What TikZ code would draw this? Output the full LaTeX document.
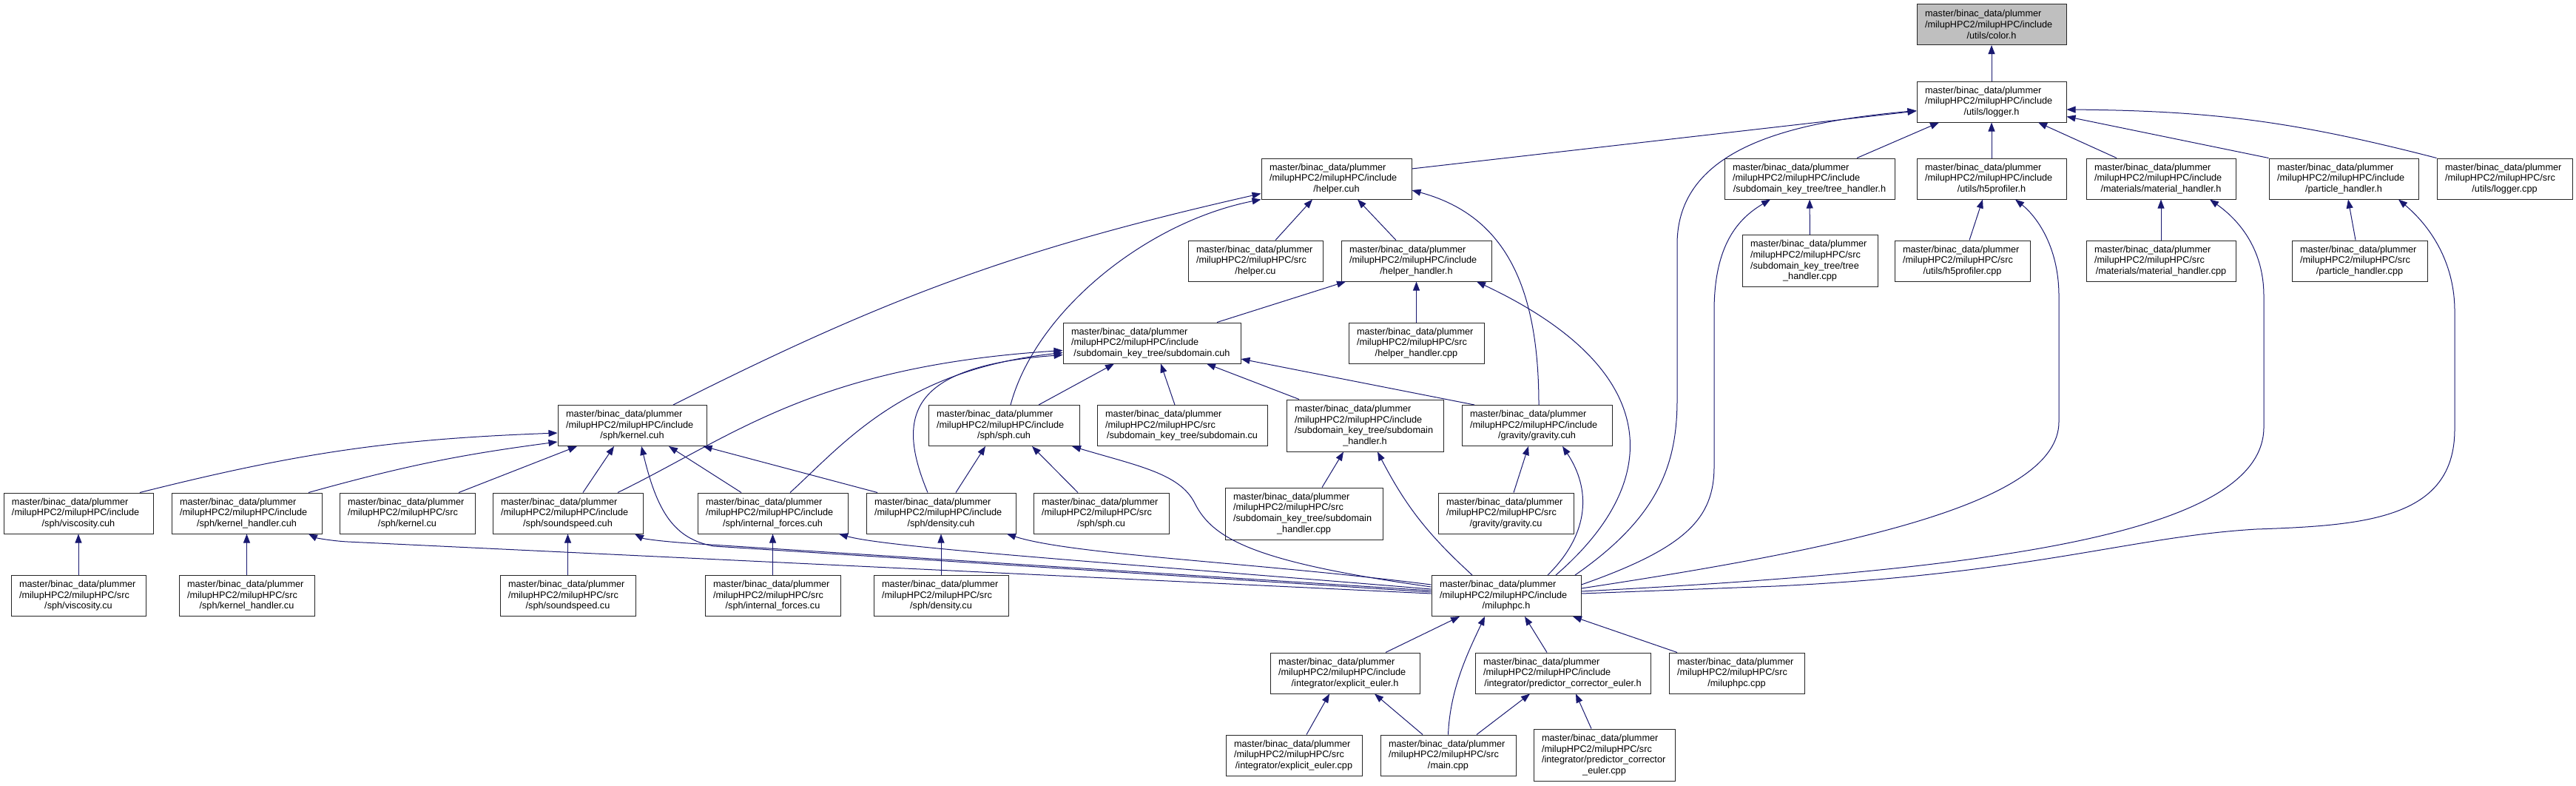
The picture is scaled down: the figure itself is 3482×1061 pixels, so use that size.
\documentclass[tikz,border=0pt]{standalone}
\usepackage{fontspec}
\setmainfont{Liberation Sans}
\usetikzlibrary{arrows.meta}
\definecolor{edgeblue}{HTML}{191970}
\newcommand{\incf}[1]{master/binac\_data/plummer\\/milupHPC2/milupHPC/include\\\hspace*{\fill}#1\hspace*{\fill}\mbox{}}
\newcommand{\srcf}[1]{master/binac\_data/plummer\\/milupHPC2/milupHPC/src\\\hspace*{\fill}#1\hspace*{\fill}\mbox{}}
\newcommand{\incw}[2]{master/binac\_data/plummer\\/milupHPC2/milupHPC/include\\#1\\\hspace*{\fill}#2\hspace*{\fill}\mbox{}}
\newcommand{\srcw}[2]{master/binac\_data/plummer\\/milupHPC2/milupHPC/src\\#1\\\hspace*{\fill}#2\hspace*{\fill}\mbox{}}
\begin{document}
\begin{tikzpicture}[x=1pt,y=-1pt, f/.style={rectangle,draw=black!85,line width=1pt,fill=white,inner xsep=11pt,inner ysep=0pt,minimum height=55pt,align=left,text width=#1pt,font=\fontsize{12.7}{14.6}\selectfont}, arr/.style={-{Triangle[length=12pt,width=9pt]},draw=edgeblue,line width=1pt}]
  \useasboundingbox (0,0) rectangle (3482,1061);
  % rows top to bottom
  \node[f=180,fill=black!25](colorh) at (2692,33){\incf{/utils/color.h}};
  \node[f=180](loggerh) at (2692,137.5){\incf{/utils/logger.h}};
  \node[f=181](helpercuh) at (1806.5,241.5){\incf{/helper.cuh}};
  \node[f=208](treeh) at (2446,241.5){\incf{/subdomain\_key\_tree/tree\_handler.h}};
  \node[f=180](hfiveh) at (2692,241.5){\incf{/utils/h5profiler.h}};
  \node[f=180](mat) at (2921,241.5){\incf{/materials/material\_handler.h}};
  \node[f=180](parth) at (3168,241.5){\incf{/particle\_handler.h}};
  \node[f=161](loggercpp) at (3385.5,241.5){\srcf{/utils/logger.cpp}};
  \node[f=160](helpercu) at (1697,352.5){\srcf{/helper.cu}};
  \node[f=181](helperh) at (1914.5,352.5){\incf{/helper\_handler.h}};
  \node[f=161,minimum height=70pt](treecpp) at (2446.5,352.5){\srcw{/subdomain\_key\_tree/tree}{\_handler.cpp}};
  \node[f=161](hfivecpp) at (2652.5,352.5){\srcf{/utils/h5profiler.cpp}};
  \node[f=180](matcpp) at (2921,352.5){\srcf{/materials/material\_handler.cpp}};
  \node[f=161](partcpp) at (3189.5,352.5){\srcf{/particle\_handler.cpp}};
  \node[f=218](subcuh) at (1557,463.5){\incf{/subdomain\_key\_tree/subdomain.cuh}};
  \node[f=161](helpercpp) at (1914.5,463.5){\srcf{/helper\_handler.cpp}};
  \node[f=179](kernelcuh) at (854.5,575){\incf{/sph/kernel.cuh}};
  \node[f=182](sphcuh) at (1357,575){\incf{/sph/sph.cuh}};
  \node[f=208](subcu) at (1598,575){\srcf{/subdomain\_key\_tree/subdomain.cu}};
  \node[f=190,minimum height=70pt](subh) at (1845,575){\incw{/subdomain\_key\_tree/subdomain}{\_handler.h}};
  \node[f=181](gravcuh) at (2077.5,575){\incf{/gravity/gravity.cuh}};
  \node[f=180](visccuh) at (106,693.5){\incf{/sph/viscosity.cuh}};
  \node[f=181](khcuh) at (333.5,693.5){\incf{/sph/kernel\_handler.cuh}};
  \node[f=161](kernelcu) at (550.5,693.5){\srcf{/sph/kernel.cu}};
  \node[f=181](sscuh) at (767.5,693.5){\incf{/sph/soundspeed.cuh}};
  \node[f=181](ifcuh) at (1044.5,693.5){\incf{/sph/internal\_forces.cuh}};
  \node[f=180](denscuh) at (1272,693.5){\incf{/sph/density.cuh}};
  \node[f=161](sphcu) at (1488.5,693.5){\srcf{/sph/sph.cu}};
  \node[f=191,minimum height=70pt](subcpp) at (1762.5,694){\srcw{/subdomain\_key\_tree/subdomain}{\_handler.cpp}};
  \node[f=161](gravcu) at (2035.5,693.5){\srcf{/gravity/gravity.cu}};
  \node[f=160](visccu) at (106,805){\srcf{/sph/viscosity.cu}};
  \node[f=161](khcu) at (333.5,805){\srcf{/sph/kernel\_handler.cu}};
  \node[f=161](sscu) at (767.5,805){\srcf{/sph/soundspeed.cu}};
  \node[f=161](ifcu) at (1044.5,805){\srcf{/sph/internal\_forces.cu}};
  \node[f=160](denscu) at (1272,805){\srcf{/sph/density.cu}};
  \node[f=180](milh) at (2036,805){\incf{/miluphpc.h}};
  \node[f=180](eeh) at (1818,909.5){\incf{/integrator/explicit\_euler.h}};
  \node[f=215](pceh) at (2112.5,909.5){\incf{/integrator/predictor\_corrector\_euler.h}};
  \node[f=161](milcpp) at (2347.5,909.5){\srcf{/miluphpc.cpp}};
  \node[f=162](eecpp) at (1749,1020.5){\srcf{/integrator/explicit\_euler.cpp}};
  \node[f=161](maincpp) at (1957.5,1020.5){\srcf{/main.cpp}};
  \node[f=169,minimum height=70pt](pcecpp) at (2168.5,1020){\srcw{/integrator/predictor\_corrector}{\_euler.cpp}};
  % straight down includes
  \foreach \x/\y in {loggerh/colorh,hfiveh/loggerh,treecpp/treeh,matcpp/mat,helpercpp/helperh,visccu/visccuh,khcu/khcuh,sscu/sscuh,ifcu/ifcuh,denscu/denscuh}{\draw[arr](\x)--(\y);}
  % logger.h
  \draw[arr]([yshift=13.5pt]helpercuh.east)--([yshift=-12.5pt]loggerh.west);
  \draw[arr]([xshift=64pt]treeh.north)--([xshift=-71pt]loggerh.south);
  \draw[arr]([xshift=-60pt]mat.north)--([xshift=63pt]loggerh.south);
  \draw[arr](parth.north west)--([yshift=-20pt]loggerh.east);
  \draw[arr](loggercpp.north west) to[bend right=7] ([yshift=-10.5pt]loggerh.east);
  \draw[arr]([xshift=93pt]milh.north) .. controls (2240,700) and (2267,630) .. (2267,540) -- (2267,330) .. controls (2267,200) and (2420,165) .. ([yshift=-12pt]loggerh.west);
  % second row headers
  \draw[arr]([yshift=15pt]milh.east) .. controls (2280,740) and (2317,700) .. (2317,630) -- (2317,420) .. controls (2317,330) and (2350,295) .. ([xshift=-53pt]treeh.south);
  \draw[arr]([xshift=9.5pt]hfivecpp.north)--([xshift=-12pt]hfiveh.south);
  \draw[arr]([yshift=10pt]milh.east) .. controls (2500,740) and (2783,680) .. (2783,570) -- (2783,400) .. controls (2783,330) and (2750,290) .. ([xshift=32pt]hfiveh.south);
  \draw[arr]([yshift=6pt]milh.east) .. controls (2700,770) and (3060,720) .. (3060,577) -- (3060,400) .. controls (3060,340) and (3030,300) .. ([xshift=66pt]mat.south);
  \draw[arr]([xshift=-5.5pt]partcpp.north)--([xshift=6pt]parth.south);
  \draw[arr]([yshift=3pt]milh.east) -- (2400,792) .. controls (2750,775) and (2880,725) .. (3050,715) .. controls (3200,710) and (3318,700) .. (3318,580) -- (3318,420) .. controls (3318,360) and (3290,310) .. ([xshift=74pt]parth.south);
  % helper.cuh and helper_handler.h
  \draw[arr]([xshift=27pt]helpercu.north)--([xshift=-32.5pt]helpercuh.south);
  \draw[arr]([xshift=-27.5pt]helperh.north)--([xshift=28.5pt]helpercuh.south);
  \draw[arr]([xshift=55.5pt]kernelcuh.north) to[bend left=7] ([yshift=-20pt]helpercuh.west);
  \draw[arr]([xshift=9pt]sphcuh.north) .. controls (1400,420) and (1550,300) .. ([yshift=-28pt]helpercuh.west);
  \draw[arr]([xshift=2.5pt]gravcuh.north) .. controls (2080,380) and (2030,290) .. ([yshift=-15.5pt]helpercuh.east);
  \draw[arr]([xshift=88pt]subcuh.north)--([xshift=-95.5pt]helperh.south);
  \draw[arr]([xshift=67pt]milh.north) .. controls (2250,650) and (2250,500) .. ([xshift=81.5pt]helperh.south);
  % subdomain.cuh
  \draw[arr]([xshift=47pt]sphcuh.north)--([xshift=-51pt]subcuh.south);
  \draw[arr]([xshift=-10pt]subcu.north)--([xshift=12pt]subcuh.south);
  \draw[arr]([xshift=-89pt]subh.north)--([xshift=74pt]subcuh.south);
  \draw[arr]([xshift=-84.5pt]gravcuh.north)--([yshift=-21.5pt]subcuh.east);
  \draw[arr]([xshift=-18pt]denscuh.north) .. controls (1210,560) and (1230,495) .. ([yshift=-16pt]subcuh.west);
  \draw[arr]([xshift=67.5pt]sscuh.north) .. controls (990,590) and (1100,495) .. ([yshift=-10pt]subcuh.west);
  \draw[arr]([xshift=23.5pt]ifcuh.north) .. controls (1140,600) and (1220,500) .. ([yshift=-13pt]subcuh.west);
  % kernel.cuh
  \draw[arr]([xshift=83pt]visccuh.north) to[bend left=6] ([yshift=-10pt]kernelcuh.west);
  \draw[arr]([xshift=83.5pt]khcuh.north) to[bend left=4] ([yshift=-22pt]kernelcuh.west);
  \draw[arr]([xshift=69.5pt]kernelcu.north)--([xshift=-74.5pt]kernelcuh.south);
  \draw[arr]([xshift=20.5pt]sscuh.north)--([xshift=-24.5pt]kernelcuh.south);
  \draw[arr]([xshift=-42.5pt]ifcuh.north)--([xshift=49.5pt]kernelcuh.south);
  \draw[arr]([xshift=-86pt]denscuh.north)--([xshift=-5pt]kernelcuh.south east);
  \draw[arr]([yshift=5pt]milh.west) -- (965,738) .. controls (910,728) and (888,690) .. ([xshift=12.5pt]kernelcuh.south);
  % sph, subdomain handler, gravity
  \draw[arr]([xshift=20pt]denscuh.north)--([xshift=-25pt]sphcuh.south);
  \draw[arr]([xshift=-31.5pt]sphcu.north)--([xshift=38pt]sphcuh.south);
  \draw[arr]([yshift=12pt]milh.west) .. controls (1700,760) and (1640,730) .. (1615,680) .. controls (1595,640) and (1540,630) .. ([xshift=92pt]sphcuh.south);
  \draw[arr]([xshift=24.5pt]subcpp.north)--([xshift=-29pt]subh.south);
  \draw[arr]([xshift=-46pt]milh.north) to[bend left=10] ([xshift=17pt]subh.south);
  \draw[arr]([xshift=10.5pt]gravcu.north)--([xshift=-11.5pt]gravcuh.south);
  \draw[arr]([xshift=56pt]milh.north) .. controls (2150,720) and (2150,660) .. ([xshift=34.5pt]gravcuh.south);
  % long edges into the sph headers
  \draw[arr]([yshift=3pt]milh.west) -- (470,732) .. controls (450,731) and (428,727) .. ([xshift=83.5pt]khcuh.south);
  \draw[arr]([yshift=7pt]milh.west) -- (930,734) .. controls (890,731) and (870,728) .. ([xshift=90.5pt]sscuh.south);
  \draw[arr]([yshift=9pt]milh.west) .. controls (1500,760) and (1200,740) .. ([xshift=89.5pt]ifcuh.south);
  \draw[arr]([yshift=15pt]milh.west) .. controls (1700,760) and (1450,750) .. ([xshift=89pt]denscuh.south);
  % miluphpc.h and below
  \draw[arr]([xshift=55pt]eeh.north)--([xshift=-63pt]milh.south);
  \draw[arr](maincpp.north) .. controls (1960,930) and (1985,880) .. ([xshift=-29pt]milh.south);
  \draw[arr]([xshift=-21.5pt]pceh.north)--([xshift=25pt]milh.south);
  \draw[arr]([xshift=-80.5pt]milcpp.north)--([xshift=90pt]milh.south);
  \draw[arr]([xshift=17pt]eecpp.north)--([xshift=-21pt]eeh.south);
  \draw[arr]([xshift=-34.5pt]maincpp.north)--([xshift=40pt]eeh.south);
  \draw[arr]([xshift=38.5pt]maincpp.north)--([xshift=-44.5pt]pceh.south);
  \draw[arr]([xshift=-17.5pt]pcecpp.north)--([xshift=17.5pt]pceh.south);
\end{tikzpicture}
\end{document}
